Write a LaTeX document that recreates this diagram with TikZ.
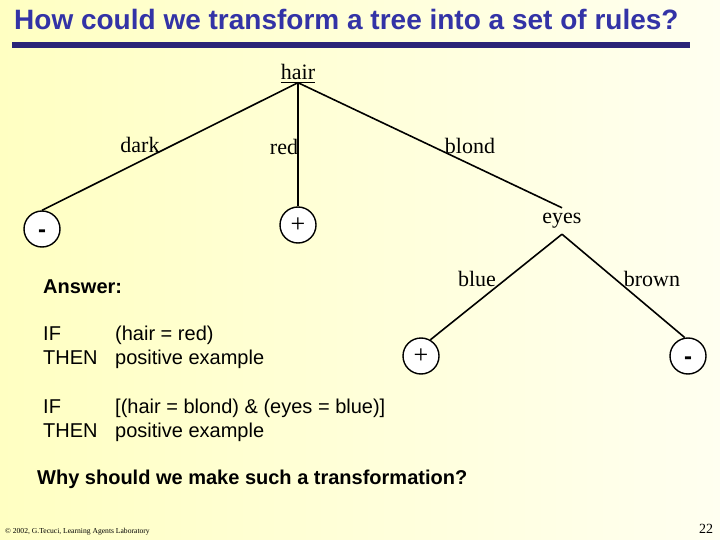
\documentclass[tikz,border=0pt]{standalone}
\usepackage{fontspec}
\setmainfont{Liberation Serif}
\newfontfamily\slidefont{Liberation Sans}
\usepackage{xcolor}
\usepackage{tikz}
\usetikzlibrary{positioning,calc}
\definecolor{titleblue}{HTML}{3333A6}
\definecolor{barblue}{HTML}{2A2478}
\definecolor{paleyellow}{HTML}{FFFFC2}
\definecolor{paleivory}{HTML}{FFFFF0}
\tikzset{
    attr/.style={inner sep=0pt, minimum height=24pt, font=\fontsize{22}{22}\selectfont},
    branchlbl/.style={inner sep=0pt, font=\fontsize{22}{22}\selectfont},
    leaf/.style={circle, draw, fill=white, line width=1.4pt, minimum size=36pt, inner sep=0pt},
    branch/.style={line width=1.6pt},
    ruletext/.style={anchor=base west, inner sep=0pt, font=\slidefont\fontsize{20}{20}\selectfont},
    boldtext/.style={anchor=base west, inner sep=0pt, font=\slidefont\bfseries\fontsize{20}{20}\selectfont},
    negsign/.style={yshift=-5pt, font=\slidefont\bfseries\fontsize{24}{24}\selectfont},
    possign/.style={font=\fontsize{26}{26}\selectfont},
}

\begin{document}
\begin{tikzpicture}[x=1pt, y=-1pt]
    \shade[left color=paleyellow, right color=paleivory] (0,0) rectangle (720,540);
    \useasboundingbox (0,0) rectangle (720,540);

    % title
    \node[anchor=base west, inner sep=0pt, text=titleblue, font=\slidefont\bfseries\fontsize{28}{28}\selectfont] (title) at (14,30) {How could we transform a tree into a set of rules?};
    \fill[barblue] (12,42) rectangle (690,48);

    % tree
    \node[attr, minimum height=21pt] (hair) at (298,72) {hair};
    \draw[line width=1pt] (hair.south west) -- (hair.south east);
    \node[leaf, label={[negsign]center:-}] (neg1) at (42,229) {};
    \node[leaf, label={[possign]center:+}] (pos1) at (298,225) {};
    \node[attr, minimum height=26pt] (eyes) at (562,221) {eyes};
    \node[leaf, label={[possign]center:+}] (pos2) at (421,356) {};
    \node[leaf, label={[negsign]center:-}] (neg2) at (688,356) {};

    \draw[branch] (hair.south) -- (neg1.north);
    \draw[branch] (hair.south) -- (pos1.north);
    \draw[branch] (hair.south) -- (eyes.north);
    \draw[branch] (eyes.south) -- (pos2.60);
    \draw[branch] (eyes.south) -- (neg2.100);

    \node[branchlbl] (dark) at (140,145) {dark};
    \node[branchlbl] (red) at (284,147) {red};
    \node[branchlbl] (blond) at (470,146) {blond};
    \node[branchlbl] (blue) at (477,279) {blue};
    \node[branchlbl] (brown) at (652,279) {brown};

    % rules
    \node[boldtext] (answer) at (43,293) {Answer:};
    \node[ruletext] (if1) at (43,340) {IF};
    \node[ruletext] (cond1) at (115,340) {(hair = red)};
    \node[ruletext] (then1) at (43,364) {THEN};
    \node[ruletext] (res1) at (115,364) {positive example};
    \node[ruletext] (if2) at (43,413) {IF};
    \node[ruletext] (cond2) at (115,413) {[(hair = blond) \& (eyes = blue)]};
    \node[ruletext] (then2) at (43,437) {THEN};
    \node[ruletext] (res2) at (115,437) {positive example};
    \node[boldtext] (why) at (37,484) {Why should we make such a transformation?};

    % footer
    \node[anchor=base west, inner sep=0pt, font=\fontsize{7.6}{7.6}\selectfont] (copy) at (5,533) {\textcopyright\ 2002, G.Tecuci, Learning Agents Laboratory};
    \node[anchor=base, inner sep=0pt, font=\fontsize{14}{14}\selectfont] (page) at (706,533) {22};
\end{tikzpicture}
\end{document}
